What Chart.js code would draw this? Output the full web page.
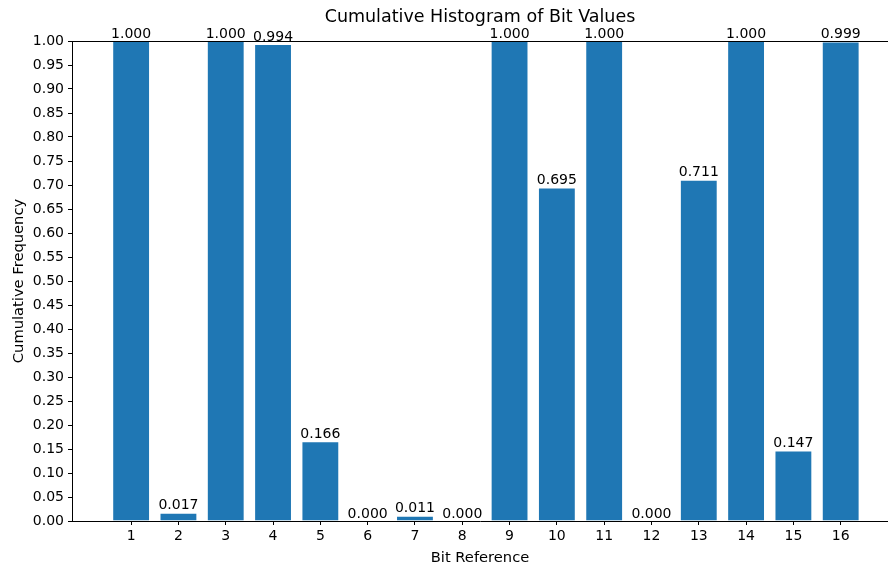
<!DOCTYPE html>
<html>
<head>
<meta charset="utf-8">
<script src="https://cdn.jsdelivr.net/npm/chart.js@4/dist/chart.umd.min.js"></script>
<style>
html,body{margin:0;padding:0;background:#fff;}
#wrap{width:888px;height:567px;}
</style>
</head>
<body>
<div id="wrap"><canvas id="c" width="888" height="567"></canvas></div>
<script>
const bitRefs = [1,2,3,4,5,6,7,8,9,10,11,12,13,14,15,16];
const cumFreq = [1.000,0.017,1.000,0.994,0.166,0.000,0.011,0.000,1.000,0.695,1.000,0.000,0.711,1.000,0.147,0.999];
const yTicks = [0,0.05,0.10,0.15,0.20,0.25,0.30,0.35,0.40,0.45,0.50,0.55,0.60,0.65,0.70,0.75,0.80,0.85,0.90,0.95,1.00];
const chartTitle = 'Cumulative Histogram of Bit Values';

const FONT = "'DejaVu Sans', sans-serif";
Chart.defaults.font.family = FONT;
Chart.defaults.color = '#000';

const valueLabels = {
  id: 'valueLabels',
  afterDatasetsDraw(chart) {
    const ctx = chart.ctx;
    const meta = chart.getDatasetMeta(0);
    ctx.save();
    ctx.font = '14px ' + FONT;
    ctx.fillStyle = '#000';
    ctx.textAlign = 'center';
    ctx.textBaseline = 'bottom';
    meta.data.forEach((el, i) => {
      ctx.fillText(cumFreq[i].toFixed(3), el.x, el.y);
    });
    ctx.restore();
  }
};
const topSpineAndTitle = {
  id: 'topSpineAndTitle',
  afterDraw(chart) {
    const a = chart.chartArea, ctx = chart.ctx;
    ctx.save();
    ctx.strokeStyle = '#000';
    ctx.lineWidth = 1;
    ctx.beginPath();
    ctx.moveTo(a.left, Math.round(a.top) + 0.5);
    ctx.lineTo(a.right, Math.round(a.top) + 0.5);
    ctx.stroke();
    ctx.font = '17.5px ' + FONT;
    ctx.fillStyle = '#000';
    ctx.textAlign = 'center';
    ctx.textBaseline = 'middle';
    ctx.fillText(chartTitle, (a.left + a.right) / 2, 17);
    ctx.restore();
  }
};

new Chart(document.getElementById('c'), {
  type: 'bar',
  data: {
    datasets: [{
      data: bitRefs.map((b, i) => ({x: b, y: cumFreq[i]})),
      backgroundColor: '#1f77b4',
      borderColor: 'rgba(255,255,255,0.35)',
      borderWidth: 1,
      categoryPercentage: 1,
      barPercentage: 0.8
    }]
  },
  options: {
    responsive: false,
    animation: false,
    layout: { padding: { left: 0, right: 0, top: 41, bottom: 0 } },
    plugins: {
      legend: { display: false },
      tooltip: { enabled: false },
      title: { display: false }
    },
    scales: {
      x: {
        type: 'linear',
        min: -0.25,
        max: 17,
        offset: false,
        afterBuildTicks(scale) { scale.ticks = bitRefs.map(v => ({value: v})); },
        afterFit(scale) { scale.height = 46; },
        ticks: { font: { size: 14, family: FONT }, color: '#000', padding: 3, maxRotation: 0, autoSkip: false,
                 callback: v => String(v) },
        grid: { display: true, offset: false, drawOnChartArea: false, drawTicks: true, tickLength: 4, color: '#000', tickColor: '#000' },
        border: { display: true, color: '#000', width: 1 },
        title: { display: true, text: 'Bit Reference', font: { size: 14.7, family: FONT }, color: '#000', padding: { top: 2, bottom: 0 } }
      },
      y: {
        min: 0,
        max: 1,
        afterBuildTicks(scale) { scale.ticks = yTicks.map(v => ({value: v})); },
        afterFit(scale) { scale.width = 72; },
        ticks: { font: { size: 14, family: FONT }, color: '#000', padding: 4, autoSkip: false,
                 callback: v => Number(v).toFixed(2) },
        grid: { display: true, offset: false, drawOnChartArea: false, drawTicks: true, tickLength: 4, color: '#000', tickColor: '#000' },
        border: { display: true, color: '#000', width: 1 },
        title: { display: true, text: 'Cumulative Frequency', font: { size: 14.7, family: FONT }, color: '#000', padding: { top: 10, bottom: 0 } }
      }
    }
  },
  plugins: [valueLabels, topSpineAndTitle]
});
</script>
</body>
</html>
